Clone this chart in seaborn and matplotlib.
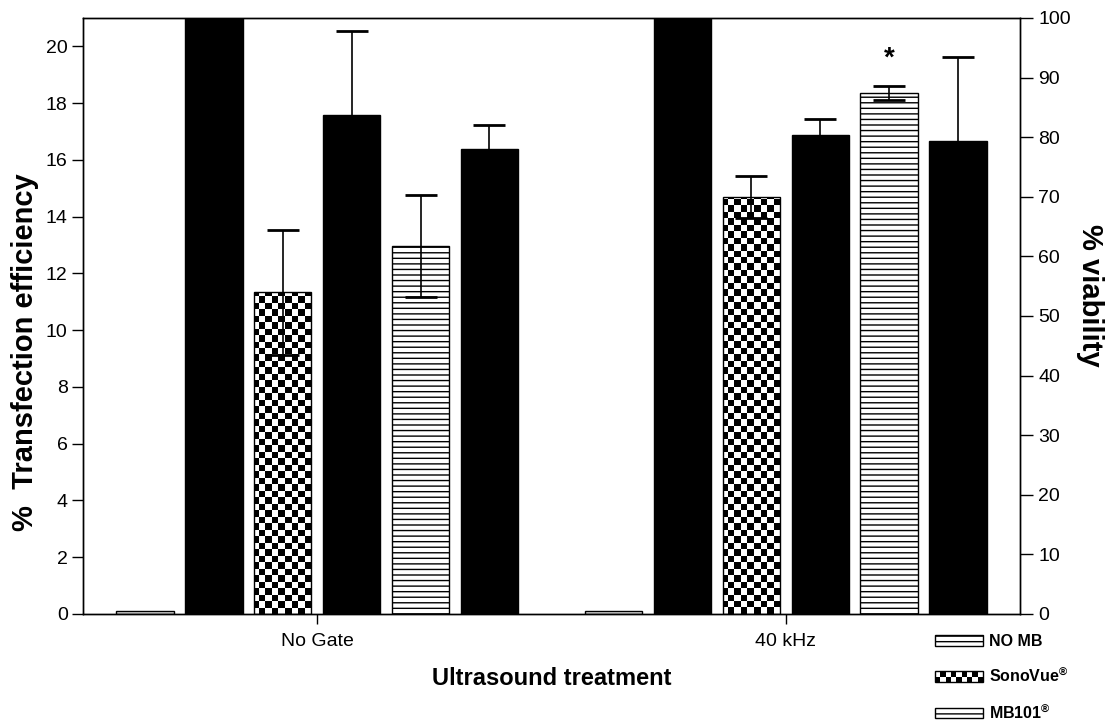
import numpy as np
import pandas as pd
import matplotlib
matplotlib.use("Agg")
import matplotlib.pyplot as plt
import seaborn as sns
from matplotlib.patches import Rectangle
from matplotlib.legend_handler import HandlerBase

# ---------------- data ----------------
groups = ["No Gate", "40 kHz"]
series = ["NO MB", "NO MB viability", "SonoVue", "SonoVue viability",
          "MB101", "MB101 viability"]

nomb_tf = [0.1, 0.1]
nomb_tf_err = [0.0, 0.0]
sono_tf = [11.33, 14.70]
sono_tf_err = [2.19, 0.74]
mb101_tf = [12.96, 18.35]
mb101_tf_err = [1.80, 0.24]

nomb_viab = [100.0, 100.0]
nomb_viab_err = [0.0, 0.0]
sono_viab = [83.7, 80.4]
sono_viab_err = [14.2, 2.7]
mb101_viab = [78.0, 79.4]
mb101_viab_err = [4.0, 14.1]

legend_labels = ["NO MB", r"SonoVue$^{\mathbf{®}}$", r"MB101$^{\mathbf{®}}$"]
star_value = 93.2
left_ticks = list(range(0, 21, 2))
right_ticks = list(range(0, 101, 10))

# ---------------- style ----------------
sns.set_style("ticks")
plt.rcParams["font.family"] = ["Liberation Sans", "DejaVu Sans"]
plt.rcParams["mathtext.fontset"] = "custom"
plt.rcParams["mathtext.rm"] = "Liberation Sans"
plt.rcParams["mathtext.bf"] = "Liberation Sans:bold"
plt.rcParams["hatch.linewidth"] = 1.0
plt.rcParams["axes.linewidth"] = 1.0
for key in ("text.color", "axes.labelcolor", "xtick.color", "ytick.color",
            "axes.edgecolor"):
    plt.rcParams[key] = "black"

fig = plt.figure(figsize=(11.1, 7.22), dpi=100)
ax = fig.add_axes([83 / 1110, 1 - 614 / 722, (1020 - 83) / 1110, (614 - 18) / 722])

tf_df = pd.DataFrame({
    "treatment": groups * 3,
    "series": ["NO MB"] * 2 + ["SonoVue"] * 2 + ["MB101"] * 2,
    "value": nomb_tf + sono_tf + mb101_tf,
})
viab_df = pd.DataFrame({
    "treatment": groups * 3,
    "series": ["NO MB viability"] * 2 + ["SonoVue viability"] * 2 + ["MB101 viability"] * 2,
    "value": nomb_viab + sono_viab + mb101_viab,
})

pal = {s: ("black" if "viability" in s else "white") for s in series}

sns.barplot(data=tf_df, x="treatment", y="value", hue="series", order=groups,
            hue_order=series, palette=pal, width=0.882, gap=0.17, dodge=True,
            errorbar=None, edgecolor="black", linewidth=1.0, legend=False,
            saturation=1, ax=ax)

ax2 = ax.twinx()
sns.barplot(data=viab_df, x="treatment", y="value", hue="series", order=groups,
            hue_order=series, palette=pal, width=0.882, gap=0.17, dodge=True,
            errorbar=None, edgecolor="black", linewidth=1.0, legend=False,
            saturation=1, ax=ax2)

# ---------------- bar styling ----------------
tf_patches = sorted(ax.patches, key=lambda p: p.get_x())
kinds = ["nomb", "sono", "mb", "nomb", "sono", "mb"]
for p, k in zip(tf_patches, kinds):
    p.set_edgecolor("black")
    p.set_zorder(1)
    if k == "nomb":
        p.set_facecolor("#dcdcdc")
    elif k == "mb":
        p.set_facecolor("white")
        p.set_hatch("---")
    else:
        p.set_facecolor("none")
        cell = 6.5
        ncol = int(round(937 / cell))
        nrow = int(round(596 / cell))
        ii, jj = np.indices((nrow, ncol))
        board = ((ii + jj) % 2).astype(float)
        im = ax.imshow(board, cmap="gray", vmin=0, vmax=1, extent=(0, 1, 0, 1),
                       transform=ax.transAxes, aspect="auto",
                       interpolation="nearest", zorder=0.5)
        im.set_clip_path(p)

v_patches = sorted(ax2.patches, key=lambda p: p.get_x())
for p in v_patches:
    p.set_facecolor("black")
    p.set_edgecolor("black")

# ---------------- error bars ----------------
tf_vals = [nomb_tf[0], sono_tf[0], mb101_tf[0], nomb_tf[1], sono_tf[1], mb101_tf[1]]
tf_errs = [nomb_tf_err[0], sono_tf_err[0], mb101_tf_err[0],
           nomb_tf_err[1], sono_tf_err[1], mb101_tf_err[1]]
tf_x = [p.get_x() + p.get_width() / 2 for p in tf_patches]
sel = [i for i, e in enumerate(tf_errs) if e > 0]
ax.errorbar([tf_x[i] for i in sel], [tf_vals[i] for i in sel],
            yerr=[tf_errs[i] for i in sel], fmt="none", ecolor="black",
            elinewidth=1.2, capsize=11.5, capthick=2.0, zorder=3)

v_vals = [nomb_viab[0], sono_viab[0], mb101_viab[0], nomb_viab[1], sono_viab[1], mb101_viab[1]]
v_errs = [nomb_viab_err[0], sono_viab_err[0], mb101_viab_err[0],
          nomb_viab_err[1], sono_viab_err[1], mb101_viab_err[1]]
v_x = [p.get_x() + p.get_width() / 2 for p in v_patches]
sel = [i for i, e in enumerate(v_errs) if e > 0]
ax2.errorbar([v_x[i] for i in sel], [v_vals[i] for i in sel],
             yerr=[v_errs[i] for i in sel], fmt="none", ecolor="black",
             elinewidth=1.2, capsize=11.5, capthick=2.0, zorder=3)

# significance star above 40 kHz MB101 bar
ax2.text(tf_x[5], star_value, "*", ha="center", va="center",
         fontsize=20, fontweight="bold")

# ---------------- axes ----------------
ax.set_xlim(-0.5, 1.5)
ax.set_ylim(0, 21)
ax2.set_ylim(0, 100)
ax.set_yticks(left_ticks)
ax2.set_yticks(right_ticks)
ax.set_xticks([0, 1])
ax.set_xticklabels(groups)

ax.tick_params(axis="y", direction="out", length=8, width=1.0, pad=3, labelsize=14)
ax.tick_params(axis="x", direction="out", length=7, width=1.0, pad=7, labelsize=14)
ax2.tick_params(axis="y", direction="out", length=9, width=1.0, pad=4, labelsize=14)
for a in (ax, ax2):
    for s in a.spines.values():
        s.set_visible(True)
        s.set_linewidth(1.0)
        s.set_color("black")

ax.set_xlabel("Ultrasound treatment", fontsize=17, fontweight="bold", labelpad=12)
ax.set_ylabel("%  Transfection efficiency", fontsize=21, fontweight="bold", labelpad=5)
ax.yaxis.label.set_y(0.44)
ax2.set_ylabel("% viability", fontsize=21, fontweight="bold", rotation=270, labelpad=24)
ax2.yaxis.label.set_y(0.535)
ax2.set_xlabel("")

# ---------------- legend ----------------
class CheckerHandler(HandlerBase):
    def create_artists(self, legend, orig_handle, xdescent, ydescent, width,
                       height, fontsize, trans):
        arts = []
        ncol, nrow = 9, 2
        cw, ch = width / ncol, height / nrow
        for i in range(ncol):
            for j in range(nrow):
                c = "black" if (i + j) % 2 == 0 else "white"
                arts.append(Rectangle((-xdescent + i * cw, -ydescent + j * ch), cw, ch,
                                      facecolor=c, edgecolor="none", transform=trans))
        arts.append(Rectangle((-xdescent, -ydescent), width, height, facecolor="none",
                              edgecolor="black", lw=1.0, transform=trans))
        return arts

h_nomb = Rectangle((0, 0), 1, 1, facecolor="white", edgecolor="black", hatch="---", lw=1.0)
h_sono = Rectangle((0, 0), 1, 1, facecolor="black", edgecolor="black", lw=1.0)
h_mb = Rectangle((0, 0), 1, 1, facecolor="white", edgecolor="black", hatch="---", lw=1.0)
fig.legend([h_nomb, h_sono, h_mb], legend_labels, loc="upper left",
           bbox_to_anchor=(935 / 1110, 1 - 634 / 722), frameon=False,
           prop={"weight": "bold", "size": 11.5}, handlelength=3.0,
           handleheight=0.65, handletextpad=0.4, labelspacing=1.1,
           borderpad=0, borderaxespad=0, handler_map={h_sono: CheckerHandler()})

fig.savefig("out.png", dpi=100)
